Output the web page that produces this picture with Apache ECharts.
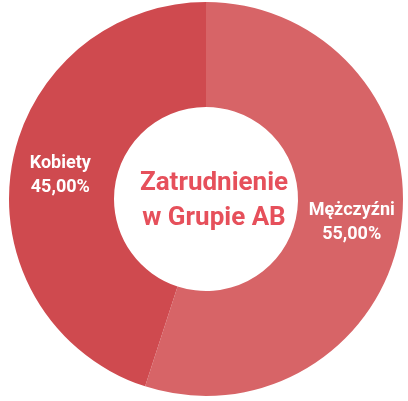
<!DOCTYPE html>
<html><head><meta charset="utf-8">
<script src="https://cdn.jsdelivr.net/npm/echarts@6/dist/echarts.min.js"></script>
<style>html,body{margin:0;padding:0;background:#fff}#c{width:408px;height:401px}</style>
</head><body><div id="c"></div>
<script>
const categories = ['Mężczyźni', 'Kobiety'];
const values = [55.00, 45.00];
const sliceColors = ['#d76467', '#cf4a4f'];
const centerTitle = 'Zatrudnienie\nw Grupie AB';

const chart = echarts.init(document.getElementById('c'), null, {renderer: 'canvas'});
chart.setOption({
  animation: false,
  backgroundColor: '#ffffff',
  title: {
    text: centerTitle,
    left: 209, top: 161, textAlign: 'center',
    textStyle: {fontFamily: 'Roboto', fontWeight: 'bold', fontSize: 26, lineHeight: 35, color: '#e6505b'}
  },
  series: [{
    type: 'pie',
    center: [206, 199],
    radius: [92, 197],
    startAngle: 90,
    clockwise: true,
    silent: true,
    data: categories.map((c, i) => ({name: c, value: values[i], itemStyle: {color: sliceColors[i]}})),
    label: {
      position: 'inside',
      formatter: p => p.name + '\n' + p.value.toFixed(2).replace('.', ',') + '%',
      fontFamily: 'Roboto', fontWeight: 'bold', fontSize: 18, lineHeight: 24, color: '#ffffff'
    },
    labelLine: {show: false},
    itemStyle: {borderWidth: 0}
  }]
});
</script></body></html>
